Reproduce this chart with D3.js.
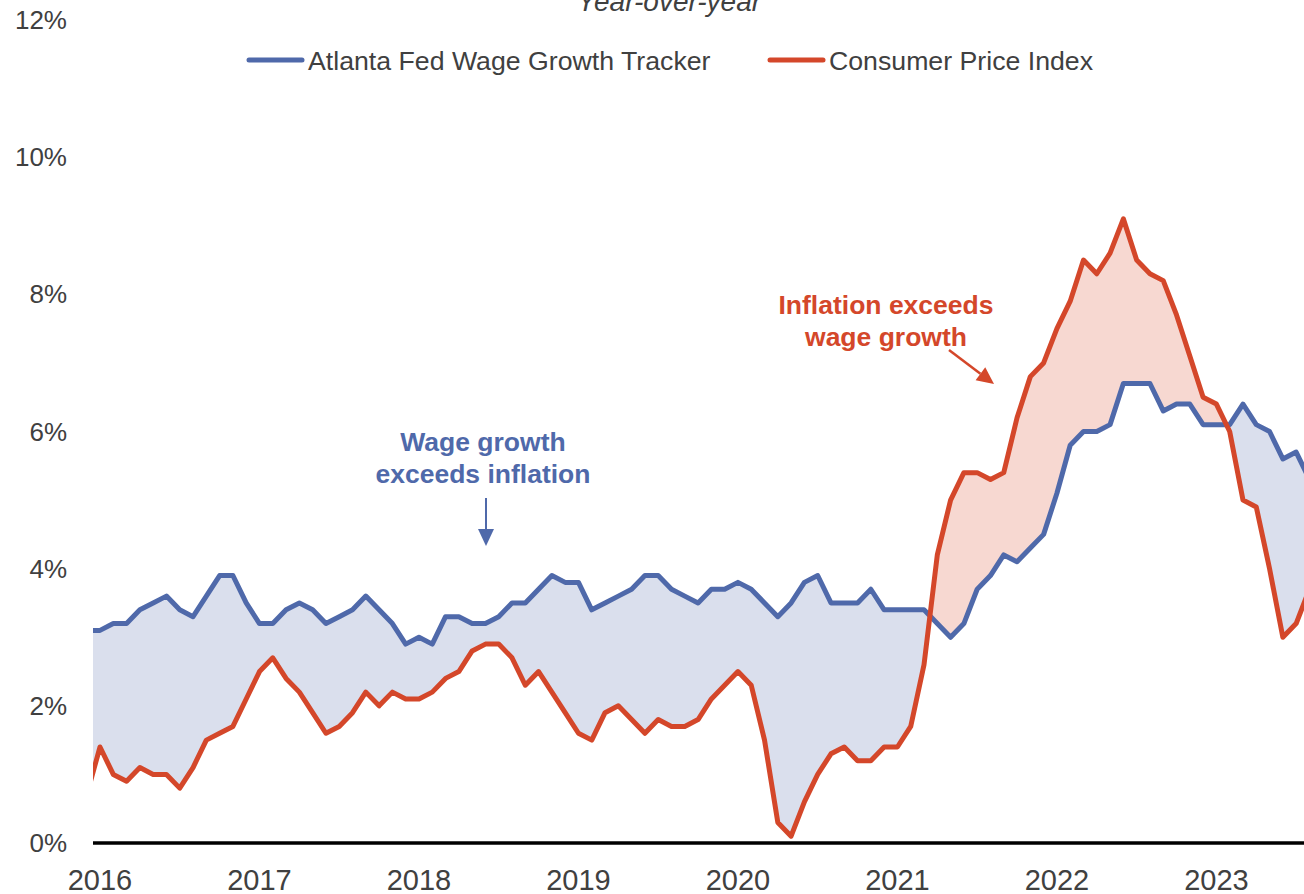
<!DOCTYPE html>
<html>
  <head>
    <title>Wages vs inflation</title>
    <script src="https://cdn.jsdelivr.net/npm/d3@7"></script>
    <style>
      body { margin: 0; background: #fff; }
      text { font-family: "Liberation Sans", Arial, sans-serif; }
    </style>
  </head>
  <body>
    <svg width="1304" height="894" id="mainsvg"></svg>
    <script>
    // monthly values, Dec 2015 .. Aug 2023 (first and last points are clipped at the edges)
    const startYear = 2015, startMonth = 11;
    const wage = [3.1,
      3.1, 3.2, 3.2, 3.4, 3.5, 3.6, 3.4, 3.3, 3.6, 3.9, 3.9, 3.5,
      3.2, 3.2, 3.4, 3.5, 3.4, 3.2, 3.3, 3.4, 3.6, 3.4, 3.2, 2.9,
      3.0, 2.9, 3.3, 3.3, 3.2, 3.2, 3.3, 3.5, 3.5, 3.7, 3.9, 3.8,
      3.8, 3.4, 3.5, 3.6, 3.7, 3.9, 3.9, 3.7, 3.6, 3.5, 3.7, 3.7,
      3.8, 3.7, 3.5, 3.3, 3.5, 3.8, 3.9, 3.5, 3.5, 3.5, 3.7, 3.4,
      3.4, 3.4, 3.4, 3.2, 3.0, 3.2, 3.7, 3.9, 4.2, 4.1, 4.3, 4.5,
      5.1, 5.8, 6.0, 6.0, 6.1, 6.7, 6.7, 6.7, 6.3, 6.4, 6.4, 6.1,
      6.1, 6.1, 6.4, 6.1, 6.0, 5.6, 5.7, 5.3];
    const cpi = [0.7,
      1.4, 1.0, 0.9, 1.1, 1.0, 1.0, 0.8, 1.1, 1.5, 1.6, 1.7, 2.1,
      2.5, 2.7, 2.4, 2.2, 1.9, 1.6, 1.7, 1.9, 2.2, 2.0, 2.2, 2.1,
      2.1, 2.2, 2.4, 2.5, 2.8, 2.9, 2.9, 2.7, 2.3, 2.5, 2.2, 1.9,
      1.6, 1.5, 1.9, 2.0, 1.8, 1.6, 1.8, 1.7, 1.7, 1.8, 2.1, 2.3,
      2.5, 2.3, 1.5, 0.3, 0.1, 0.6, 1.0, 1.3, 1.4, 1.2, 1.2, 1.4,
      1.4, 1.7, 2.6, 4.2, 5.0, 5.4, 5.4, 5.3, 5.4, 6.2, 6.8, 7.0,
      7.5, 7.9, 8.5, 8.3, 8.6, 9.1, 8.5, 8.3, 8.2, 7.7, 7.1, 6.5,
      6.4, 6.0, 5.0, 4.9, 4.0, 3.0, 3.2, 3.7];
    const years = [2016, 2017, 2018, 2019, 2020, 2021, 2022, 2023];
    const yTicks = [0, 2, 4, 6, 8, 10, 12];
    const seriesNames = ['Atlanta Fed Wage Growth Tracker', 'Consumer Price Index'];

    const blue = '#4f69aa', red = '#d4472a';
    const blueFill = '#dadfed', redFill = '#f7d8d1';
    const textCol = '#404040';

    let svg = d3.select('#mainsvg');
    const plotLeft = 93, plotRight = 1304, plotTop = 20, plotBottom = 843;

    // month index relative to Jan 2016
    const data = wage.map((w, i) => ({
      m: (startYear - 2016) * 12 + startMonth + i,
      wage: w,
      cpi: cpi[i]
    }));

    const x = d3.scaleLinear().domain([0, 84]).range([100, 1216.4]);
    const y = d3.scaleLinear().domain([0, 12]).range([plotBottom, plotTop]);

    const defs = svg.append('defs');
    defs.append('clipPath').attr('id', 'plotclip')
      .append('rect').attr('x', plotLeft).attr('y', 0)
      .attr('width', plotRight - plotLeft).attr('height', plotBottom + 5);

    // region above each line, used to split the band into two colours
    defs.append('clipPath').attr('id', 'aboveCpi')
      .append('path').attr('d', d3.area().x(d => x(d.m)).y0(0).y1(d => y(d.cpi))(data));
    defs.append('clipPath').attr('id', 'aboveWage')
      .append('path').attr('d', d3.area().x(d => x(d.m)).y0(0).y1(d => y(d.wage))(data));

    const plot = svg.append('g').attr('clip-path', 'url(#plotclip)');
    const band = d3.area().x(d => x(d.m)).y0(d => y(d.cpi)).y1(d => y(d.wage));

    plot.append('g').attr('clip-path', 'url(#aboveCpi)')
      .append('path').attr('d', band(data)).attr('fill', blueFill);
    plot.append('g').attr('clip-path', 'url(#aboveWage)')
      .append('path').attr('d', band(data)).attr('fill', redFill);

    // zero axis
    svg.append('line')
      .attr('x1', plotLeft).attr('x2', plotRight)
      .attr('y1', y(0)).attr('y2', y(0))
      .attr('stroke', '#000').attr('stroke-width', 3.5);

    const line = key => d3.line().x(d => x(d.m)).y(d => y(d[key]));
    plot.append('path').datum(data).attr('d', line('wage'))
      .attr('fill', 'none').attr('stroke', blue).attr('stroke-width', 5)
      .attr('stroke-linejoin', 'round');
    plot.append('path').datum(data).attr('d', line('cpi'))
      .attr('fill', 'none').attr('stroke', red).attr('stroke-width', 5)
      .attr('stroke-linejoin', 'round');

    // y axis labels
    svg.append('g').selectAll('text').data(yTicks).join('text')
      .attr('x', 67).attr('y', d => y(d) + 9)
      .attr('text-anchor', 'end')
      .attr('font-size', 26).attr('fill', textCol)
      .text(d => d + '%');

    // x axis labels
    svg.append('g').selectAll('text').data(years).join('text')
      .attr('x', d => x((d - 2016) * 12))
      .attr('y', 890)
      .attr('text-anchor', 'middle')
      .attr('font-size', 29).attr('fill', textCol)
      .text(d => d);

    // subtitle, cut off at the top
    svg.append('text')
      .attr('x', 669).attr('y', 11)
      .attr('text-anchor', 'middle')
      .attr('font-size', 28).attr('font-style', 'italic').attr('fill', textCol)
      .text('Year-over-year');

    // legend
    const legend = svg.append('g');
    const legendX = [249, 770];
    seriesNames.forEach((name, i) => {
      const g = legend.append('g').attr('transform', `translate(${legendX[i]},60)`);
      g.append('line').attr('x1', 0).attr('x2', 53).attr('y1', 0).attr('y2', 0)
        .attr('stroke', i === 0 ? blue : red).attr('stroke-width', 5).attr('stroke-linecap', 'round');
      g.append('text').attr('x', 59).attr('y', 9.5)
        .attr('font-size', 26.7).attr('fill', textCol).text(name);
    });

    // annotations
    function note(lines, cx, cy, col) {
      svg.append('text')
        .attr('text-anchor', 'middle')
        .attr('font-size', 26.5).attr('font-weight', 'bold').attr('fill', col)
        .selectAll('tspan').data(lines).join('tspan')
        .attr('x', cx).attr('y', (d, i) => cy + i * 32)
        .text(d => d);
    }
    function arrow(x1, y1, x2, y2, col, w) {
      const ang = Math.atan2(y2 - y1, x2 - x1);
      const len = 17, half = 8;
      const bx = x2 - len * Math.cos(ang), by = y2 - len * Math.sin(ang);
      svg.append('line').attr('x1', x1).attr('y1', y1).attr('x2', bx).attr('y2', by)
        .attr('stroke', col).attr('stroke-width', w);
      svg.append('path')
        .attr('d', `M${x2},${y2}L${bx + half * Math.sin(ang)},${by - half * Math.cos(ang)}L${bx - half * Math.sin(ang)},${by + half * Math.cos(ang)}Z`)
        .attr('fill', col);
    }
    note(['Wage growth', 'exceeds inflation'], 483, 451, blue);
    arrow(486, 498, 486, 546, blue, 2);
    note(['Inflation exceeds', 'wage growth'], 886, 314, red);
    arrow(949, 350, 994, 384, red, 2.5);
    </script>
  </body>
</html>
